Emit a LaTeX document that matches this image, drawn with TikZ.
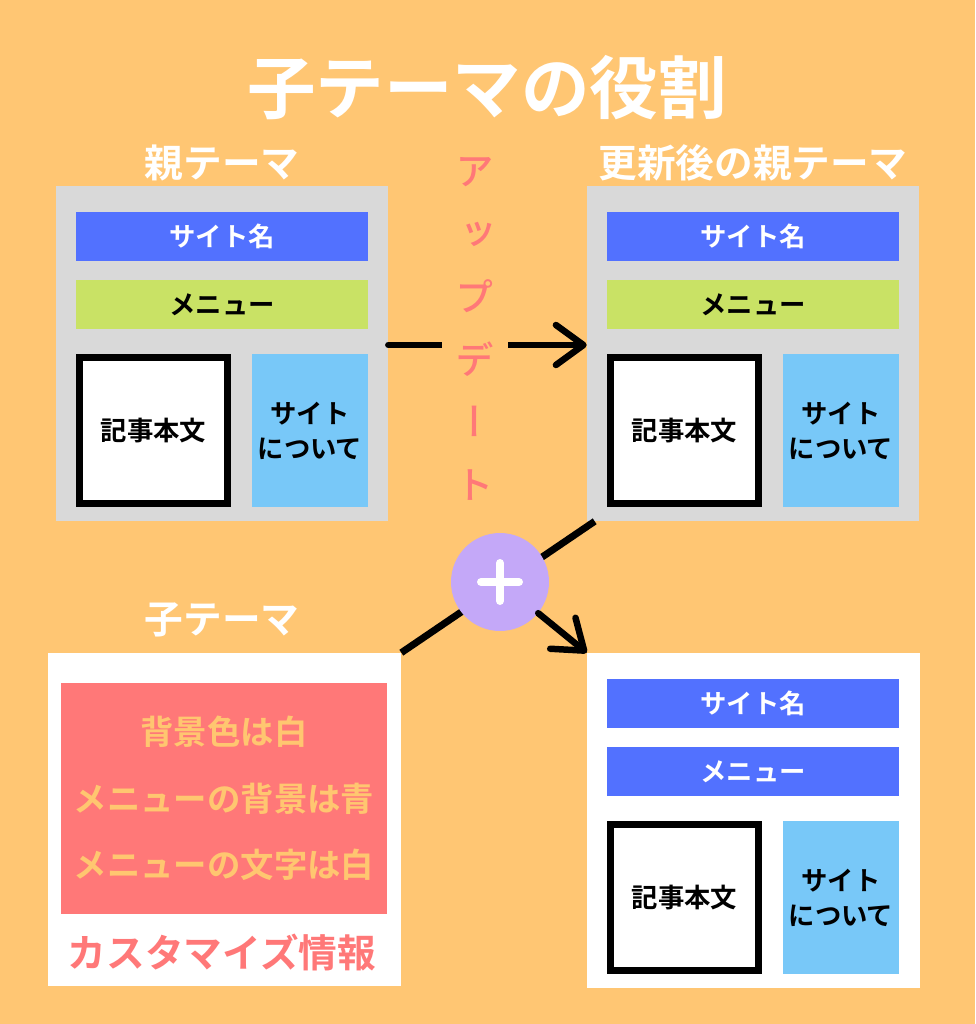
\documentclass[tikz,border=0pt]{standalone}
\usepackage{fontspec}
\usetikzlibrary{arrows.meta}
\newfontfamily\jpfont{Noto Sans CJK JP Bold}
\newfontfamily\jpvert[RawFeature=+vert]{Noto Sans CJK JP Medium}
\definecolor{bg}{HTML}{FFC673}
\definecolor{framegray}{HTML}{D9D9D9}
\definecolor{siteblue}{HTML}{5271FF}
\definecolor{menugreen}{HTML}{C9E265}
\definecolor{sideblue}{HTML}{78C8F8}
\definecolor{custred}{HTML}{FF7878}
\definecolor{plusviolet}{HTML}{C4A8F8}
\definecolor{ruleorange}{HTML}{FFC670}
\tikzset{
  jp/.style={font=\jpfont\fontsize{#1}{#1}\selectfont},
  heading/.style={jp=22, text=white, inner sep=0pt},
  frame/.style={fill=#1, inner sep=0pt, minimum width=6.64cm, minimum height=6.7cm},
  bar/.style={fill=#1, jp=15, inner sep=0pt, minimum width=5.84cm, minimum height=0.98cm},
  article/.style={draw=black, line width=3.7pt, fill=white, jp=15, inner sep=0pt,
    minimum width=2.97cm, minimum height=2.93cm},
  about/.style={fill=sideblue, font=\jpfont\fontsize{15}{20}\selectfont, align=center,
    inner sep=0pt, minimum width=2.32cm, minimum height=3.06cm},
  flow/.style={line width=0.13cm, line cap=round,
    -{Straight Barb[length=0.55cm, width=0.8cm, round]}},
}

\begin{document}
\begin{tikzpicture}[x=0.02cm, y=-0.02cm]
\fill[bg] (0,0) rectangle (975,1024);

\node (title) at (487,88) [jp=39, text=white, inner sep=0pt] {子テーマの役割};

\foreach \theme/\dx/\name in {parent/0/親テーマ, updated/531/更新後の親テーマ} {%
    \node (\theme) at (222+\dx,353.5) [frame=framegray] {};
    \node (\theme-title) at (222+\dx,163) [heading] {\name};
    \node (\theme-site) at (222+\dx,236.5) [bar=siteblue, text=white] {サイト名};
    \node (\theme-menu) at (222+\dx,304.5) [bar=menugreen] {メニュー};
    \node (\theme-article) at (153.5+\dx,430.5) [article] {記事本文};
    \node (\theme-about) at (310+\dx,430.5) [about] {サイト\\について};
}

\node (child-title) at (222,620) [heading] {子テーマ};
\node (child) at (224.5,819.5) [fill=white, minimum width=7.06cm, minimum height=6.66cm] {};
\node (rules) at (224,798.5) [fill=custred, text=ruleorange, align=center, inner sep=0pt,
    font=\jpfont\fontsize{19}{38}\selectfont,
    minimum width=6.52cm, minimum height=4.62cm] {背景色は白\\メニューの背景は青\\メニューの文字は白};
\node (custom) at (222,953) [jp=22, text=custred, inner sep=0pt] {カスタマイズ情報};

\node (result) at (753.5,820.5) [frame=white, minimum width=6.66cm] {};
\node (result-site) at (753,703.5) [bar=siteblue, text=white] {サイト名};
\node (result-menu) at (753,771.5) [bar=siteblue, text=white] {メニュー};
\node (result-article) at (684.5,897.5) [article] {記事本文};
\node (result-about) at (841,897.5) [about] {サイト\\について};

\path[flow]
    ([yshift=0.17cm]parent.east) edge ([yshift=0.17cm]updated.west);
\node (update) at (475,329) [fill=bg, align=center, text=custred, inner xsep=8pt, inner ysep=2pt,
    font=\jpvert\fontsize{22}{35.8}\selectfont] {ア\\ッ\\プ\\デ\\ー\\ト};

\draw[line width=0.14cm] ([xshift=0.16cm]updated.south west) -- (child.north east);
\node (plus) at (500,582) [circle, fill=plusviolet, minimum size=1.96cm] {};
\draw[white, line width=0.16cm, line cap=round]
    (plus.center) ++(-19,0) -- ++(38,0)
    (plus.center) ++(0,-19) -- ++(0,38);
\path[flow]
    (plus) edge (result.north west);
\end{tikzpicture}
\end{document}
